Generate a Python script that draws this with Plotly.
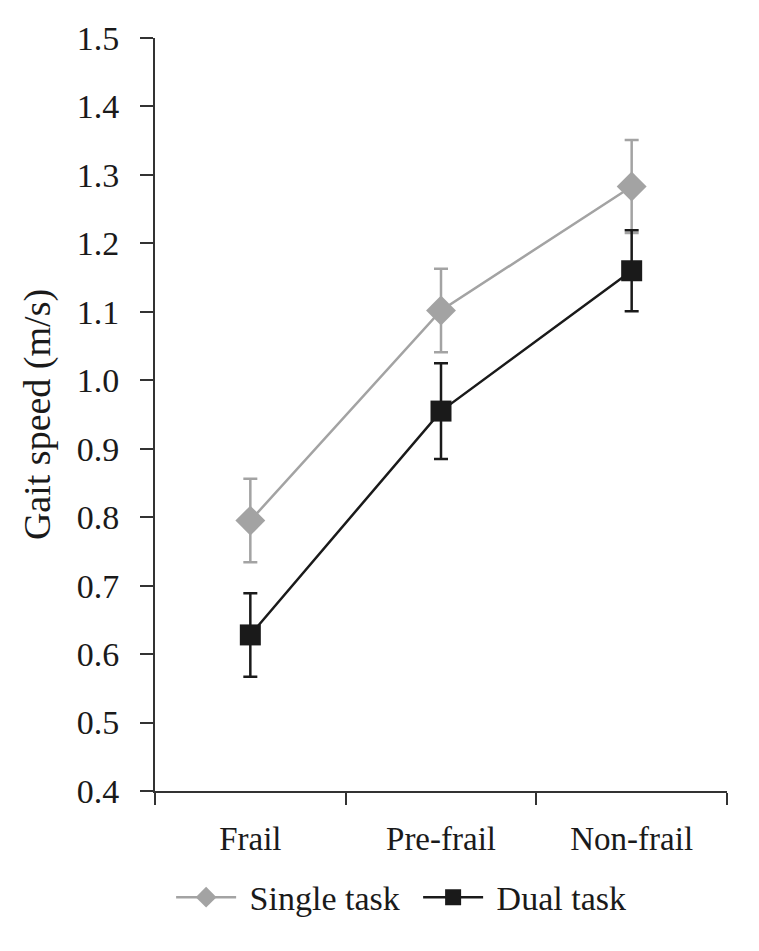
import plotly.graph_objects as go

categories = ["Frail", "Pre-frail", "Non-frail"]
single_task = [0.795, 1.102, 1.283]
single_err = [0.061, 0.061, 0.068]
dual_task = [0.628, 0.955, 1.160]
dual_err = [0.061, 0.070, 0.059]

serif = "Liberation Serif, Times New Roman, serif"

fig = go.Figure()
fig.add_trace(go.Scatter(
    x=categories, y=single_task, name="\u00a0Single task", mode="lines+markers",
    line=dict(color="#a3a3a3", width=2.5),
    marker=dict(symbol="diamond", size=23, color="#a3a3a3"),
    error_y=dict(type="data", array=single_err, color="#a3a3a3", thickness=2.5, width=7),
))
fig.add_trace(go.Scatter(
    x=categories, y=dual_task, name="\u00a0Dual task", mode="lines+markers",
    line=dict(color="#1a1a1a", width=2.5),
    marker=dict(symbol="square", size=21, color="#1a1a1a"),
    error_y=dict(type="data", array=dual_err, color="#1a1a1a", thickness=2.5, width=7),
))

fig.update_layout(
    width=759, height=951,
    margin=dict(l=147, r=40, t=28, b=168),
    plot_bgcolor="white", paper_bgcolor="white",
    font=dict(family=serif, size=34, color="#1a1a1a"),
    showlegend=True,
    legend=dict(orientation="h", x=0.46, xanchor="center", y=-0.103, yanchor="top",
                font=dict(family=serif, size=34), itemwidth=60, tracegroupgap=0,
                entrywidth=172, entrywidthmode="pixels"),
    xaxis=dict(
        type="category", range=[-0.5, 2.5], tickson="boundaries",
        ticks="outside", ticklen=12, tickwidth=2, tickcolor="#333",
        showline=True, linecolor="#333", linewidth=2, showgrid=False, zeroline=False,
        tickfont=dict(family=serif, size=33), ticklabelstandoff=17,
    ),
    yaxis=dict(
        range=[0.4, 1.5], tickmode="array",
        tickvals=[0.4, 0.5, 0.6, 0.7, 0.8, 0.9, 1.0, 1.1, 1.2, 1.3, 1.4, 1.5],
        ticktext=["0.4", "0.5", "0.6", "0.7", "0.8", "0.9", "1.0", "1.1", "1.2", "1.3", "1.4", "1.5"],
        ticks="outside", ticklen=13, tickwidth=2, tickcolor="#333",
        showline=True, linecolor="#333", linewidth=2, showgrid=False, zeroline=False,
        tickfont=dict(family=serif, size=34), ticklabelstandoff=14,
        title=dict(text="Gait speed (m/s)", font=dict(family=serif, size=38), standoff=14),
    ),
)

fig.write_html("out.html")
